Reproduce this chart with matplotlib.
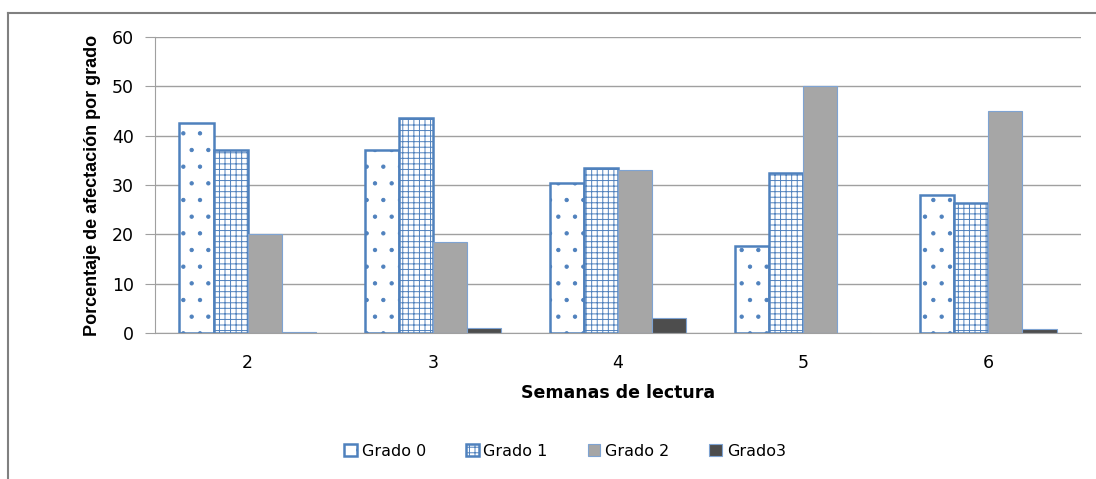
import numpy as np
import matplotlib.pyplot as plt
from matplotlib.lines import Line2D

semanas = ['2', '3', '4', '5', '6']
grado0 = [42.5, 37.0, 30.5, 17.7, 28.0]
grado1 = [37.0, 43.5, 33.5, 32.5, 26.3]
grado2 = [20.0, 18.5, 33.0, 50.0, 45.0]
grado3 = [0.3, 1.0, 3.0, 0.0, 0.8]
series = ['Grado 0', 'Grado 1', 'Grado 2', 'Grado3']

plt.rcParams['hatch.linewidth'] = 0.7

fig = plt.figure(figsize=(10.96, 4.79), dpi=100)
ax = fig.add_axes([155/1096, 1 - 333/479, (1081 - 155)/1096, (333 - 37)/479])

x = np.arange(len(semanas))
w = 0.184
blue = '#4F81BD'
ax.bar(x - 1.5*w, grado0, w, color='white', edgecolor=blue, hatch='.', linewidth=1.8, label=series[0])
ax.bar(x - 0.5*w, grado1, w, color='white', edgecolor=blue, hatch='+++', linewidth=1.8, label=series[1])
ax.bar(x + 0.5*w, grado2, w, color='#A6A6A6', edgecolor='#7EA3D2', linewidth=0.8, label=series[2])
ax.bar(x + 1.5*w, grado3, w, color='#4D4D4D', edgecolor='#7EA3D2', linewidth=0.8, label=series[3])

ax.set_xlim(-0.5, 4.5)
ax.set_ylim(0, 60)
ax.set_yticks(range(0, 61, 10))
ax.set_xticks(x)
ax.set_xticklabels(semanas)
ax.yaxis.grid(True, color='#A0A0A0', linewidth=1)
ax.set_axisbelow(True)
for s in ['top', 'right']:
    ax.spines[s].set_visible(False)
ax.spines['left'].set_color('#A0A0A0')
ax.spines['bottom'].set_color('#A0A0A0')
ax.tick_params(axis='y', length=7, color='#A0A0A0', labelsize=12.5, pad=8)
ax.tick_params(axis='x', length=0, labelsize=12.5, pad=15)

ax.set_ylabel('Porcentaje de afectación por grado', fontsize=13, fontweight='bold',
              family=['Liberation Sans', 'DejaVu Sans'], labelpad=8)
ax.set_xlabel('Semanas de lectura', fontsize=12.5, fontweight='bold', labelpad=9)

leg = fig.legend(loc='center', bbox_to_anchor=(565/1096, 1 - 451/479), ncol=4, frameon=False,
                 fontsize=11.5, handlelength=0.8, handleheight=0.8, columnspacing=2.5, handletextpad=0.3)

# chart border
fig.add_artist(Line2D([8/1096, 8/1096], [0, 1 - 13/479], color='#808080', linewidth=1.5))
fig.add_artist(Line2D([8/1096, 1], [1 - 13/479, 1 - 13/479], color='#808080', linewidth=1.5))

fig.savefig('out.png', dpi=100)
